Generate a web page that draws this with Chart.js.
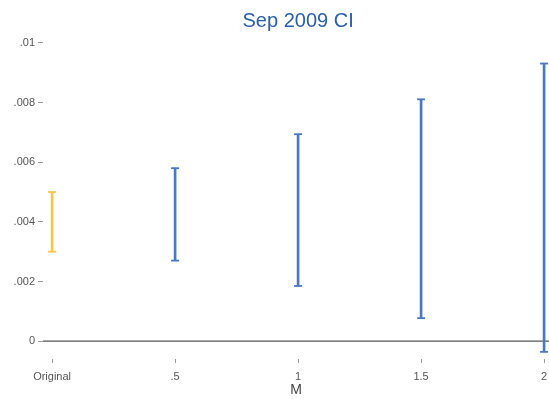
<!DOCTYPE html>
<html>
<head>
<meta charset="utf-8">
<script src="https://cdn.jsdelivr.net/npm/chart.js@4"></script>
<style>
  html, body { margin: 0; padding: 0; background: #fff; }
  #wrap { width: 549px; height: 399px; }
</style>
</head>
<body>
<div id="wrap"><canvas id="ciChart"></canvas></div>
<script>
// M values (0 = original estimate)
const mValues = [0, 0.5, 1, 1.5, 2];
const xTickLabels = ['Original', '.5', '1', '1.5', '2'];
const ciLower = [0.0030, 0.0027, 0.00185, 0.00077, -0.00036];
const ciUpper = [0.0050, 0.0058, 0.00694, 0.00811, 0.00931];
const yTicks = [0, 0.002, 0.004, 0.006, 0.008, 0.01];
const yTickLabels = ['0', '.002', '.004', '.006', '.008', '.01'];

const barColors = mValues.map((m, i) => i === 0 ? '#f9c548' : '#4a78c8');

// horizontal reference line at 0 + title over the "1" category
const extras = {
    id: 'extras',
    beforeDatasetsDraw(chart) {
        const { ctx, chartArea, scales } = chart;
        const y0 = scales.y.getPixelForValue(0);
        ctx.save();
        ctx.strokeStyle = '#555';
        ctx.lineWidth = 1.3;
        ctx.beginPath();
        ctx.moveTo(chartArea.left, y0);
        ctx.lineTo(chartArea.right, y0);
        ctx.stroke();
        ctx.restore();
    },
    afterDraw(chart) {
        const { ctx, scales } = chart;
        ctx.save();
        ctx.fillStyle = '#2a5fb0';
        ctx.font = '20px "Liberation Sans", Arial, sans-serif';
        ctx.textAlign = 'center';
        ctx.textBaseline = 'alphabetic';
        ctx.fillText('Sep 2009 CI', scales.x.getPixelForValue(1), 27);
        ctx.restore();
    }
};

new Chart(document.getElementById('ciChart'), {
    type: 'bar',
    data: {
        datasets: [
            {
                label: 'CI',
                data: mValues.map((m, i) => ({ x: m, y: [ciLower[i], ciUpper[i]] })),
                backgroundColor: barColors,
                borderWidth: 0,
                barThickness: 2,
                order: 2
            },
            {
                type: 'scatter',
                label: 'caps',
                data: mValues.flatMap((m, i) => [{ x: m, y: ciLower[i] }, { x: m, y: ciUpper[i] }]),
                pointStyle: 'line',
                pointRadius: 4,
                pointHoverRadius: 4,
                borderWidth: 1.8,
                borderColor: mValues.flatMap((m, i) => [barColors[i], barColors[i]]),
                order: 1
            }
        ]
    },
    options: {
        responsive: true,
        maintainAspectRatio: false,
        animation: false,
        layout: { autoPadding: false, padding: { top: 37, right: 0, bottom: 0, left: 0 } },
        plugins: { legend: { display: false }, tooltip: { enabled: false } },
        scales: {
            x: {
                type: 'linear',
                offset: false,
                min: -0.037,
                max: 2.02,
                afterBuildTicks: (s) => { s.ticks = mValues.map(v => ({ value: v })); },
                afterFit: (s) => { s.paddingRight = 0; s.paddingLeft = 0; },
                ticks: {
                    callback: (v) => xTickLabels[mValues.indexOf(v)],
                    color: '#555',
                    font: { family: '"Liberation Sans", Arial, sans-serif', size: 11 },
                    padding: 7,
                    autoSkip: false,
                    maxRotation: 0
                },
                grid: { offset: false, drawOnChartArea: false, drawTicks: true, tickLength: 4, color: '#999' },
                border: { display: false },
                title: {
                    display: true,
                    text: 'M',
                    color: '#444',
                    font: { family: '"Liberation Sans", Arial, sans-serif', size: 14 },
                    padding: { top: -8, bottom: 0 }
                }
            },
            y: {
                min: -0.0006,
                max: 0.0102,
                afterBuildTicks: (s) => { s.ticks = yTicks.map(v => ({ value: v })); },
                afterFit: (s) => { s.width = 43; },
                ticks: {
                    callback: (v) => yTickLabels[yTicks.indexOf(v)],
                    color: '#555',
                    font: { family: '"Liberation Sans", Arial, sans-serif', size: 11 },
                    padding: 3
                },
                grid: { drawOnChartArea: false, drawTicks: true, tickLength: 5, color: '#999' },
                border: { display: false }
            }
        }
    },
    plugins: [extras]
});
</script>
</body>
</html>
